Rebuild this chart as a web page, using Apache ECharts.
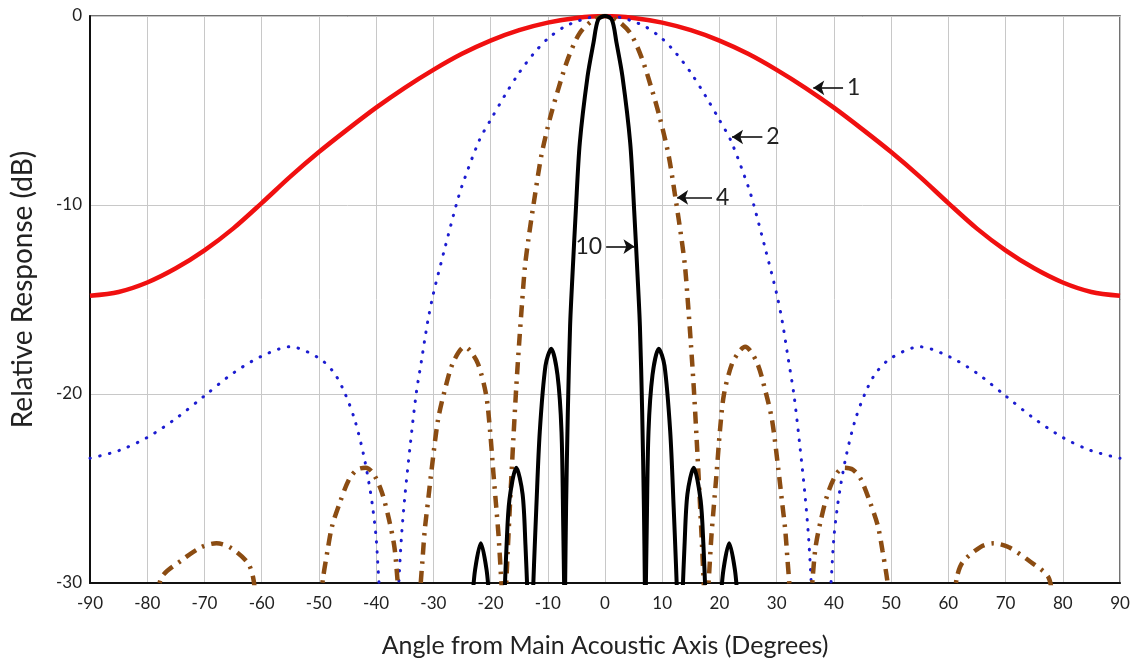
<!DOCTYPE html>
<html>
<head>
<meta charset="utf-8">
<script src="https://cdn.jsdelivr.net/npm/echarts@6/dist/echarts.min.js"></script>
<style>
  html, body { margin: 0; padding: 0; background: #fff; }
  #main { width: 1137px; height: 664px; }
</style>
</head>
<body>
<div id="main"></div>
<script>
// angle (degrees) / relative response (dB); null = gap below -30 dB
var ang1 = [-90, -85, -80, -75, -70, -65, -60, -55, -50, -45, -40, -35, -30, -25, -20, -15, -10, -5, 0,
  5, 10, 15, 20, 25, 30, 35, 40, 45, 50, 55, 60, 65, 70, 75, 80, 85, 90]
var db1 = [-14.8, -14.6, -14.1, -13.35, -12.4, -11.25, -9.9, -8.5, -7.2, -6.0, -4.85, -3.8, -2.85, -2.0, -1.3, -0.75, -0.35, -0.1, 0,
  -0.1, -0.35, -0.75, -1.3, -2.0, -2.85, -3.8, -4.85, -6.0, -7.2, -8.5, -9.9, -11.25, -12.4, -13.35, -14.1, -14.6, -14.8]

var ang2 = [-90, -85, -80, -75, -70, -65, -60, -55, -50, -47.3, -45.4, -43.7, -42.2, -41.2, -40.6, -40, -39.6, -39.3, null,
  -36.3, -36.1, -35.6, -35, -34, -33, -32, -31, -30, -28, -26, -25, -22, -20, -17.5, -15, -12.5, -10, -7, -5, -3, 0,
  3, 5, 7, 10, 12.5, 15, 17.5, 20, 22, 25, 26, 28, 30, 31, 32, 33, 34, 35, 35.6, 36.1, 36.3, null,
  39.3, 39.6, 40, 40.6, 41.2, 42.2, 43.7, 45.4, 47.3, 50, 55, 60, 65, 70, 75, 80, 85, 90]
var db2 = [-23.4, -23.0, -22.3, -21.3, -20.1, -18.9, -18.0, -17.5, -18.1, -18.9, -20.0, -21.4, -23.2, -24.8, -26.0, -27.6, -29.5, -31, null,
  -32, -30.4, -27.7, -25.5, -22.6, -20.0, -18.1, -16.2, -14.7, -12.3, -10.0, -9.0, -6.6, -5.5, -4.2, -3.0, -2.0, -1.2, -0.55, -0.3, -0.1, 0,
  -0.1, -0.3, -0.55, -1.2, -2.0, -3.0, -4.2, -5.5, -6.6, -9.0, -10.0, -12.3, -14.7, -16.2, -18.1, -20.0, -22.6, -25.5, -27.7, -30.4, -32, null,
  -31, -29.5, -27.6, -26.0, -24.8, -23.2, -21.4, -20.0, -18.9, -18.1, -17.5, -18.0, -18.9, -20.1, -21.3, -22.3, -23.0, -23.4]

var ang4 = [-78.2, -77.5, -74, -70.5, -67.9, -65.6, -62.5, -61.5, -61.0, null,
  -49.7, -49.3, -48.5, -47.7, -46.4, -44.7, -43.3, -41.8, -40.5, -39.0, -37.7, -36.8, -36.3, -36.0, null,
  -32.5, -32.2, -31.9, -31.5, -30.9, -30.3, -29.2, -28, -26.5, -24.5, -23.6, -22.2, -20.8, -20.1, -19.5, -19.0, -18.6, -18.2, -17.9, null,
  -17.4, -17, -16.5, -16, -15.5, -15, -14.5, -14, -13.4, -12.25, -11.1, -9.6, -8.1, -6.4, -4.4, -2, 0,
  2, 4.4, 6.4, 8.1, 9.6, 11.1, 12.25, 13.4, 14, 14.5, 15, 15.5, 16, 16.5, 17, 17.4, null,
  17.9, 18.2, 18.6, 19.0, 19.5, 20.1, 20.8, 22.2, 23.6, 24.5, 26.5, 28, 29.2, 30.3, 30.9, 31.5, 31.9, 32.2, 32.5, null,
  36.0, 36.3, 36.8, 37.7, 39.0, 40.5, 41.8, 43.3, 44.7, 46.4, 47.7, 48.5, 49.3, 49.7, null,
  61.0, 61.5, 62.5, 65.6, 67.9, 70.5, 74, 77.5, 78.2]
var db4 = [-31, -29.7, -28.8, -28.1, -27.9, -28.1, -28.9, -29.7, -31, null,
  -31, -29.8, -28.3, -27.0, -25.8, -24.5, -24.0, -23.9, -24.2, -25.2, -26.7, -28.1, -29.7, -31, null,
  -31.5, -30, -28.8, -27.2, -25.6, -24, -21.4, -19.8, -18.3, -17.5, -17.7, -18.4, -20.0, -21.9, -24.2, -26, -27.5, -29.5, -31, null,
  -31, -28.3, -25.2, -22.3, -19.6, -17.3, -15.2, -13.3, -11.85, -9.5, -7.35, -5.4, -3.8, -2.2, -0.9, -0.2, 0,
  -0.2, -0.9, -2.2, -3.8, -5.4, -7.35, -9.5, -11.85, -13.3, -15.2, -17.3, -19.6, -22.3, -25.2, -28.3, -31, null,
  -31, -29.5, -27.5, -26, -24.2, -21.9, -20.0, -18.4, -17.7, -17.5, -18.3, -19.8, -21.4, -24, -25.6, -27.2, -28.8, -30, -31.5, null,
  -31, -29.7, -28.1, -26.7, -25.2, -24.2, -23.9, -24.0, -24.5, -25.8, -27.0, -28.3, -29.8, -31, null,
  -31, -29.7, -28.9, -28.1, -27.9, -28.1, -28.8, -29.7, -31]

var ang10 = [-23.2, -22.7, -21.7, -20.7, -20.2, null,
  -17.6, -17.2, -16.7, -15.5, -14.4, -13.9, -13.5, null,
  -12.7, -12.4, -12.0, -11.4, -10.4, -9.4, -8.3, -7.6, -7.3, -7.1, null,
  -7.0, -6.8, -6.5, -6.1, -5.7, -5.1, -4.4, -3.05, -2, -1.2, 0,
  1.2, 2, 3.05, 4.4, 5.1, 5.7, 6.1, 6.5, 6.8, 7.0, null,
  7.1, 7.3, 7.6, 8.3, 9.4, 10.4, 11.4, 12.0, 12.4, 12.7, null,
  13.5, 13.9, 14.4, 15.5, 16.7, 17.2, 17.6, null,
  20.2, 20.7, 21.7, 22.7, 23.2]
var db10 = [-31, -29.3, -27.9, -29.3, -31, null,
  -31, -28, -25.6, -23.9, -25.3, -28, -31, null,
  -31.5, -29, -26, -22, -18.5, -17.6, -19, -22, -27, -31, null,
  -31, -26, -21, -16.4, -13.8, -10.3, -6.7, -3.2, -1.4, -0.2, 0,
  -0.2, -1.4, -3.2, -6.7, -10.3, -13.8, -16.4, -21, -26, -31, null,
  -31, -27, -22, -19, -17.6, -18.5, -22, -26, -29, -31.5, null,
  -31, -28, -25.3, -23.9, -25.6, -28, -31, null,
  -31, -29.3, -27.9, -29.3, -31]

// curve labels: [text, arrow start angle, arrow tip angle, dB]
var tag1 = ['1', 41.6, 36.4, -3.8]
var tag2 = ['2', 27.5, 22.2, -6.4]
var tag4 = ['4', 18.7, 12.6, -9.6]
var tag10 = ['10', 0.2, 5.15, -12.2]

function pairs(xs, ys) {
  return xs.map(function (x, i) { return x === null ? ['-', '-'] : [x, ys[i]] })
}

function arrow(tag) {
  return {
    silent: true,
    symbol: ['none', 'arrow'],
    symbolSize: 11,
    lineStyle: { color: '#111', width: 1.6, type: 'solid' },
    label: {
      show: true, position: 'start', formatter: tag[0], distance: 4,
      color: '#222', fontSize: 23, fontFamily: 'Lato'
    },
    emphasis: { disabled: true },
    data: [[{ coord: [tag[1], tag[3]] }, { coord: [tag[2], tag[3]] }]]
  }
}

var myChart = echarts.init(document.getElementById('main'))

var font = 'Lato'
var option = {
  animation: false,
  backgroundColor: '#fff',
  grid: { left: 90, right: 17, top: 16, bottom: 81, show: true, borderColor: '#444', borderWidth: 1.5 },
  xAxis: {
    type: 'value', min: -90, max: 90, interval: 10,
    name: 'Angle from Main Acoustic Axis (Degrees)',
    nameLocation: 'middle', nameGap: 50,
    nameTextStyle: { fontSize: 25, color: '#222', fontFamily: font },
    axisLine: { onZero: false, lineStyle: { color: '#111', width: 2 } },
    axisTick: { show: false },
    axisLabel: { margin: 12, fontSize: 17, color: '#222', fontFamily: font },
    splitLine: { lineStyle: { color: '#c8c8c8', width: 1 } }
  },
  yAxis: {
    type: 'value', min: -30, max: 0, interval: 10,
    name: 'Relative Response (dB)',
    nameLocation: 'middle', nameGap: 53,
    nameTextStyle: { fontSize: 28, color: '#222', fontFamily: font, padding: [0, 0, 0, 20] },
    axisLine: { show: true, onZero: false, lineStyle: { color: '#111', width: 2 } },
    axisTick: { show: false },
    axisLabel: { margin: 8, fontSize: 17, color: '#222', fontFamily: font },
    splitLine: { lineStyle: { color: '#c8c8c8', width: 1 } }
  },
  series: [
    {
      name: '1', type: 'line', data: pairs(ang1, db1), smooth: 0.3, showSymbol: false, symbol: 'none',
      lineStyle: { color: '#f01010', width: 4.5 }, z: 2, markLine: arrow(tag1)
    },
    {
      name: '2', type: 'line', data: pairs(ang2, db2), smooth: 0.3, showSymbol: false, symbol: 'none',
      lineStyle: { color: '#1c1cd0', width: 3, type: [0.5, 9.5], cap: 'round' }, z: 3, markLine: arrow(tag2)
    },
    {
      name: '4', type: 'line', data: pairs(ang4, db4), smooth: 0.3, showSymbol: false, symbol: 'none',
      lineStyle: { color: '#8b4c12', width: 4.5, type: [12, 7, 2.5, 7] }, z: 4, markLine: arrow(tag4)
    },
    {
      name: '10', type: 'line', data: pairs(ang10, db10), smooth: 0.3, showSymbol: false, symbol: 'none',
      lineStyle: { color: '#000', width: 4 }, z: 5, markLine: arrow(tag10)
    }
  ]
}

myChart.setOption(option)
</script>
</body>
</html>
